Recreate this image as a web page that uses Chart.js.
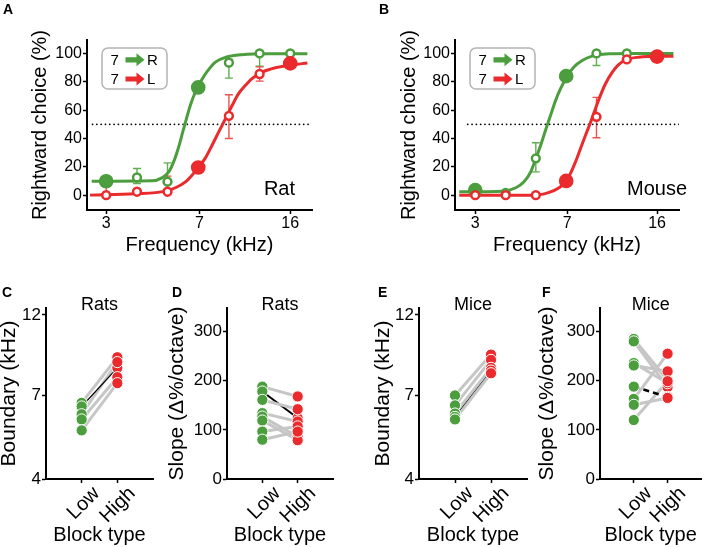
<!DOCTYPE html>
<html><head><meta charset="utf-8">
<script src="https://cdn.jsdelivr.net/npm/chart.js@4.4.1/dist/chart.umd.min.js"></script>
<style>
html,body{margin:0;padding:0;background:#fff;overflow:hidden;width:708px;height:547px;position:relative;}
canvas{position:absolute;}
</style></head><body>
<canvas id="cA" width="354" height="275" style="left:0;top:0"></canvas>
<canvas id="cB" width="354" height="275" style="left:354px;top:0"></canvas>
<canvas id="cC" width="180" height="271" style="left:-10px;top:280px"></canvas>
<canvas id="cD" width="190" height="271" style="left:150px;top:280px"></canvas>
<canvas id="cE" width="180" height="271" style="left:355px;top:280px"></canvas>
<canvas id="cF" width="188" height="271" style="left:520px;top:280px"></canvas>
<script>
// ---------------- DATA ----------------
const freqs = [3, 3.97, 5.24, 6.93, 9.16, 12.11, 16];
const freqTicks = [3, 7, 16];
const choiceTicks = [0, 20, 40, 60, 80, 100];
const chanceLevel = [50, 50];

// Panel A: rat, 7 kHz -> R (green), 7 kHz -> L (red)
const ratR = [9.8, 12.5, 9.5, 76, 93.5, 100, 100];
const ratRFilled = [true, false, false, true, false, false, false];
const ratRLo = [null, 8.2, null, null, 82.6, 91, null];
const ratRHi = [null, 18.8, 22.8, null, 95.8, 101, null];
const ratL = [0, 2.4, 2.4, 19.5, 56, 85.5, 93];
const ratLFilled = [false, false, false, true, false, false, true];
const ratLLo = [null, null, null, null, 40, 80.5, null];
const ratLHi = [9.4, null, 13.4, null, 70.9, 90.5, null];
const ratRFitX = [2.63, 4.55, 4.98, 5.3, 5.54, 5.8, 6.02, 6.2, 6.45, 6.75, 7.07, 7.52, 8.1, 8.88, 10.3, 13.2, 18.7];
const ratRFitY = [9.8, 10.1, 12.2, 16.4, 23.5, 34, 44.6, 52.8, 63.4, 72.8, 79.8, 87.3, 93.9, 97.2, 99.1, 99.8, 99.8];
const ratLFitX = [2.59, 3.91, 5.14, 5.63, 6.17, 6.55, 6.93, 7.4, 7.86, 8.35, 8.88, 9.44, 10.0, 10.65, 11.3, 12.4, 14.0, 16.3, 18.7];
const ratLFitY = [0, 0.9, 2.8, 5.2, 9.4, 14.1, 19.5, 26.3, 35.2, 44.6, 54, 63.4, 71.6, 77.5, 82.2, 86.8, 89.9, 92, 93.2];

// Panel B: mouse
const mouseR = [3.5, 1.5, 26, 84, 100, 100, 99];
const mouseRFilled = [true, false, false, true, false, false, false];
const mouseRLo = [null, null, 16.4, null, 91.5, null, null];
const mouseRHi = [null, null, 37, null, 100, null, null];
const mouseL = [0, 0, 0, 10, 55.3, 95.8, 97.8];
const mouseLFilled = [false, false, false, true, false, false, true];
const mouseLLo = [null, null, null, null, 40.5, null, null];
const mouseLHi = [null, null, null, null, 69, null, null];
const mouseRFitX = [2.59, 3.86, 4.36, 4.7, 5.0, 5.23, 5.48, 5.73, 6.0, 6.29, 6.58, 7.0, 7.44, 8.03, 8.8, 10.3, 13.1, 18.6];
const mouseRFitY = [2.3, 2.8, 5.2, 9.4, 16.4, 25.4, 35.2, 45.8, 56.3, 66.9, 75.1, 84, 90.4, 95, 98.1, 99.8, 100, 100];
const mouseLFitX = [2.59, 5.23, 5.92, 6.49, 6.89, 7.21, 7.55, 7.91, 8.28, 8.67, 9.07, 9.5, 9.95, 10.6, 11.2, 12.1, 13.5, 16.2, 18.6];
const mouseLFitY = [0, 0, 1.9, 5.2, 9.4, 15.3, 23.5, 32.9, 42.3, 51.2, 61, 70.4, 78.6, 86.8, 92, 95.8, 97.4, 98.1, 98.1];

// Lower panels: block types and per-animal pairs (Low, High); one example drawn in black
const blockTypes = ['Low', 'High'];
const boundaryTicks = [4, 7, 12];
const slopeTicks = [0, 100, 200, 300];
const ratBoundLow  = [6.66, 6.5, 6.17, 5.96, 5.54];
const ratBoundHigh = [9.04, 8.42, 8.75, 7.91, 7.6];
const ratBoundExample = 1;
const ratSlopeLow  = [188, 178, 161, 134, 127, 119, 96.5, 80];
const ratSlopeHigh = [168, 124, 142, 117, 86, 79, 107, 96.5];
const ratSlopeExample = 1;
const mouseBoundLow  = [7.0, 6.55, 6.2, 6.06, 5.96];
const mouseBoundHigh = [9.2, 8.88, 8.42, 8.27, 8.12];
const mouseBoundExample = 3;
const mouseSlopeLow  = [285, 280, 236, 231, 188, 163, 151, 120];
const mouseSlopeHigh = [201, 187, 195, 219, 167, 255, 165, 199];
const mouseSlopeExample = 4;

// ---------------- STYLE ----------------
const FONT = "'Liberation Sans', Arial, Helvetica, sans-serif";
Chart.defaults.font.family = FONT;
Chart.defaults.color = '#000';
const GREEN = '#4b9d3e', RED = '#ea2a2c', GREEN_ERR = '#62ad53', RED_ERR = '#ef5050', GREY = '#c6c6c6';

function textPlugin(items) {
  return { id: 'texts', afterDraw(chart) {
    const ctx = chart.ctx, ca = chart.chartArea; ctx.save();
    items.forEach(t => {
      ctx.font = t.font; ctx.fillStyle = '#000';
      ctx.textAlign = t.align || 'left'; ctx.textBaseline = 'alphabetic';
      const x = t.x === 'center' ? (ca.left + ca.right) / 2 : t.x;
      ctx.fillText(t.text, x, t.y);
    });
    ctx.restore();
  }};
}

function errPlugin(sets) {
  return { id: 'errs', beforeDatasetsDraw(chart) {
    const ctx = chart.ctx, xs = chart.scales.x, ys = chart.scales.y; ctx.save();
    ctx.lineWidth = 1.4;
    sets.forEach(s => {
      ctx.strokeStyle = s.color;
      freqs.forEach((f, i) => {
        if (s.lo[i] == null && s.hi[i] == null) return;
        const px = xs.getPixelForValue(f);
        const p1 = ys.getPixelForValue(s.lo[i] != null ? s.lo[i] : s.y[i]);
        const p2 = ys.getPixelForValue(s.hi[i] != null ? s.hi[i] : s.y[i]);
        ctx.beginPath(); ctx.moveTo(px, p1); ctx.lineTo(px, p2);
        if (s.lo[i] != null) { ctx.moveTo(px - 4, p1); ctx.lineTo(px + 4, p1); }
        if (s.hi[i] != null) { ctx.moveTo(px - 4, p2); ctx.lineTo(px + 4, p2); }
        ctx.stroke();
      });
    });
    ctx.restore();
  }};
}

function arrow(ctx, x0, x1, cy, col) {
  ctx.fillStyle = col; ctx.beginPath();
  ctx.moveTo(x0, cy - 2.6); ctx.lineTo(x1 - 8, cy - 2.6); ctx.lineTo(x1 - 8, cy - 6.5);
  ctx.lineTo(x1, cy); ctx.lineTo(x1 - 8, cy + 6.5); ctx.lineTo(x1 - 8, cy + 2.6);
  ctx.lineTo(x0, cy + 2.6); ctx.closePath(); ctx.fill();
}
const legendPlugin = { id: 'arrowLegend', afterDatasetsDraw(chart) {
  const ctx = chart.ctx, ca = chart.chartArea;
  const bx = ca.left + 15, by = ca.top + 8, bw = 65, bh = 41;
  ctx.save();
  ctx.beginPath(); ctx.roundRect(bx, by, bw, bh, 6);
  ctx.fillStyle = '#fff'; ctx.fill();
  ctx.lineWidth = 1.5; ctx.strokeStyle = '#b4b4b4'; ctx.stroke();
  ctx.font = '15px ' + FONT; ctx.fillStyle = '#000'; ctx.textBaseline = 'alphabetic';
  ctx.fillText('7', bx + 8.5, by + 16.8); ctx.fillText('R', bx + 45, by + 16.8);
  ctx.fillText('7', bx + 8.5, by + 36); ctx.fillText('L', bx + 45, by + 36);
  arrow(ctx, bx + 23.5, bx + 42.5, by + 11.8, GREEN);
  arrow(ctx, bx + 23.5, bx + 42.5, by + 31, RED);
  ctx.restore();
}};

function psych(id, c) {
  const P = (xs, ys) => xs.map((x, i) => ({x, y: ys[i]}));
  const marker = (ys, filled, col, order) => ({
    data: P(freqs, ys), showLine: false, order,
    pointRadius: filled.map(f => f ? 6.6 : 3.9),
    pointBackgroundColor: filled.map(f => f ? col : '#fff'),
    pointBorderColor: col,
    pointBorderWidth: filled.map(f => f ? 1.5 : 2.5)
  });
  const curve = (xs, ys, col, order) => ({
    data: P(xs, ys), showLine: true, order, borderColor: col, borderWidth: 3,
    pointRadius: 0, cubicInterpolationMode: 'monotone', fill: false
  });
  new Chart(document.getElementById(id), {
    type: 'scatter',
    data: { datasets: [
      marker(c.L, c.Lf, RED, 0),
      marker(c.R, c.Rf, GREEN, 1),
      curve(c.LfitX, c.LfitY, RED, 2),
      curve(c.RfitX, c.RfitY, GREEN, 3),
      { data: P(c.chanceX, chanceLevel), showLine: true, order: 4, borderColor: '#000',
        borderWidth: 1.8, borderDash: [0.01, 4.3], borderCapStyle: 'round', pointRadius: 0 }
    ]},
    options: {
      responsive: false, animation: false, events: [],
      layout: { padding: c.pad },
      plugins: { legend: { display: false }, tooltip: { enabled: false } },
      scales: {
        x: { type: 'logarithmic', min: c.xmin, max: c.xmax,
          afterBuildTicks: s => { s.ticks = freqTicks.map(v => ({value: v})); },
          afterFit: s => { s.height = 51; },
          ticks: { callback: v => String(v), font: { size: 16 }, padding: 0, autoSkip: false, maxRotation: 0 },
          grid: { display: true, drawOnChartArea: false, drawTicks: true, tickLength: 4, tickWidth: 1.5, tickColor: '#000' },
          border: { display: true, color: '#000', width: 2 },
          title: { display: true, text: 'Frequency (kHz)', font: { size: 20 }, padding: { top: 4, bottom: 4 } }
        },
        y: { type: 'linear', min: -10.5, max: 109.5,
          afterBuildTicks: s => { s.ticks = choiceTicks.map(v => ({value: v})); },
          afterFit: s => { s.width = c.yw; },
          ticks: { font: { size: 16 }, padding: 1 },
          grid: { display: true, drawOnChartArea: false, drawTicks: true, tickLength: 4, tickWidth: 1.5, tickColor: '#000' },
          border: { display: true, color: '#000', width: 2 },
          title: { display: true, text: 'Rightward choice (%)', font: { size: 20 }, padding: { top: 4, bottom: 4 } }
        }
      }
    },
    plugins: [errPlugin(c.errs), legendPlugin, textPlugin(c.texts)]
  });
}

psych('cA', {
  R: ratR, Rf: ratRFilled, L: ratL, Lf: ratLFilled,
  RfitX: ratRFitX, RfitY: ratRFitY, LfitX: ratLFitX, LfitY: ratLFitY,
  chanceX: [2.65, 19.5], xmin: 2.52, xmax: 19.5,
  pad: { left: 24, top: 40, right: 42, bottom: 14 }, yw: 63,
  errs: [ { y: ratR, lo: ratRLo, hi: ratRHi, color: GREEN_ERR },
          { y: ratL, lo: ratLLo, hi: ratLHi, color: RED_ERR } ],
  texts: [ { text: 'A', x: 3, y: 14, font: 'bold 14px ' + FONT },
           { text: 'Rat', x: 295, y: 195, align: 'right', font: '20px ' + FONT } ]
});
psych('cB', {
  R: mouseR, Rf: mouseRFilled, L: mouseL, Lf: mouseLFilled,
  RfitX: mouseRFitX, RfitY: mouseRFitY, LfitX: mouseLFitX, LfitY: mouseLFitY,
  chanceX: [2.8, 19.58], xmin: 2.49, xmax: 19.58,
  pad: { left: 39, top: 40, right: 29, bottom: 14 }, yw: 62,
  errs: [ { y: mouseR, lo: mouseRLo, hi: mouseRHi, color: GREEN_ERR },
          { y: mouseL, lo: mouseLLo, hi: mouseLHi, color: RED_ERR } ],
  texts: [ { text: 'B', x: 25, y: 14, font: 'bold 14px ' + FONT },
           { text: 'Mouse', x: 333, y: 195, align: 'right', font: '20px ' + FONT } ]
});

function pairs(id, c) {
  const ds = [];
  c.low.forEach((v, i) => {
    const ex = i === c.example;
    ds.push({ data: [{x: 1, y: v}, {x: 2, y: c.high[i]}], showLine: true, pointRadius: 0,
      borderColor: ex ? '#000' : GREY, borderWidth: ex ? c.exW : 3,
      borderDash: ex ? c.exDash : [], order: ex ? c.exOrder : 2 });
  });
  ds.push({ data: c.low.map(v => ({x: 1, y: v})), pointRadius: 5.6, pointBackgroundColor: GREEN,
    pointBorderColor: '#fff', pointBorderWidth: 1, order: 0 });
  ds.push({ data: c.high.map(v => ({x: 2, y: v})), pointRadius: 5.6, pointBackgroundColor: RED,
    pointBorderColor: '#fff', pointBorderWidth: 1, order: 0 });
  new Chart(document.getElementById(id), {
    type: 'scatter',
    data: { datasets: ds },
    options: {
      responsive: false, animation: false, events: [],
      layout: { padding: c.pad },
      plugins: { legend: { display: false }, tooltip: { enabled: false } },
      scales: {
        x: { type: 'linear', min: 0, max: 3,
          afterBuildTicks: s => { s.ticks = [{value: 1}, {value: 2}]; },
          afterFit: s => { s.height = 72; },
          ticks: { callback: v => blockTypes[v - 1], font: { size: 20 }, padding: -1, labelOffset: 15,
                   autoSkip: false, minRotation: 45, maxRotation: 45 },
          grid: { display: true, drawOnChartArea: false, drawTicks: true, tickLength: 4, tickWidth: 1.5, tickColor: '#000' },
          border: { display: true, color: '#000', width: 2 },
          title: { display: true, text: 'Block type', font: { size: 20 }, padding: { top: 4, bottom: 4 } }
        },
        y: c.yScale
      }
    },
    plugins: [textPlugin(c.texts)]
  });
}
function yAxis(kind, yw, title) {
  const common = {
    afterFit: s => { s.width = yw; },
    ticks: { font: { size: 17 }, padding: 1, callback: v => String(v) },
    grid: { display: true, drawOnChartArea: false, drawTicks: true, tickLength: 4, tickWidth: 1.5, tickColor: '#000' },
    border: { display: true, color: '#000', width: 2 },
    title: { display: true, text: title, font: { size: 21 }, padding: { top: 4, bottom: 4 } }
  };
  if (kind === 'boundary') return Object.assign(common, { type: 'logarithmic', min: 4, max: 12.57,
    afterBuildTicks: s => { s.ticks = boundaryTicks.map(v => ({value: v})); } });
  return Object.assign(common, { type: 'linear', min: 0, max: 348,
    afterBuildTicks: s => { s.ticks = slopeTicks.map(v => ({value: v})); } });
}
const lab = (t, x) => ({ text: t, x, y: 17, font: 'bold 14px ' + FONT });
const ttl = t => ({ text: t, x: 'center', y: 29.5, align: 'center', font: '18px ' + FONT });

pairs('cC', { low: ratBoundLow, high: ratBoundHigh, example: ratBoundExample, exW: 1.2, exDash: [], exOrder: 1,
  pad: { left: 3, top: 28, right: 17, bottom: 0 }, yScale: yAxis('boundary', 53, 'Boundary (kHz)'),
  texts: [lab('C', 12), ttl('Rats')] });
pairs('cD', { low: ratSlopeLow, high: ratSlopeHigh, example: ratSlopeExample, exW: 2, exDash: [], exOrder: 3,
  pad: { left: 11, top: 28, right: 7, bottom: 0 }, yScale: yAxis('slope', 66, 'Slope (Δ%/octave)'),
  texts: [lab('D', 22), ttl('Rats')] });
pairs('cE', { low: mouseBoundLow, high: mouseBoundHigh, example: mouseBoundExample, exW: 2, exDash: [], exOrder: 3,
  pad: { left: 12, top: 28, right: 8, bottom: 0 }, yScale: yAxis('boundary', 52, 'Boundary (kHz)'),
  texts: [lab('E', 23), ttl('Mice')] });
pairs('cF', { low: mouseSlopeLow, high: mouseSlopeHigh, example: mouseSlopeExample, exW: 2.5, exDash: [6, 4], exOrder: 1,
  pad: { left: 11, top: 28, right: 1, bottom: 0 }, yScale: yAxis('slope', 69, 'Slope (Δ%/octave)'),
  texts: [lab('F', 22), ttl('Mice')] });
</script>
</body></html>
